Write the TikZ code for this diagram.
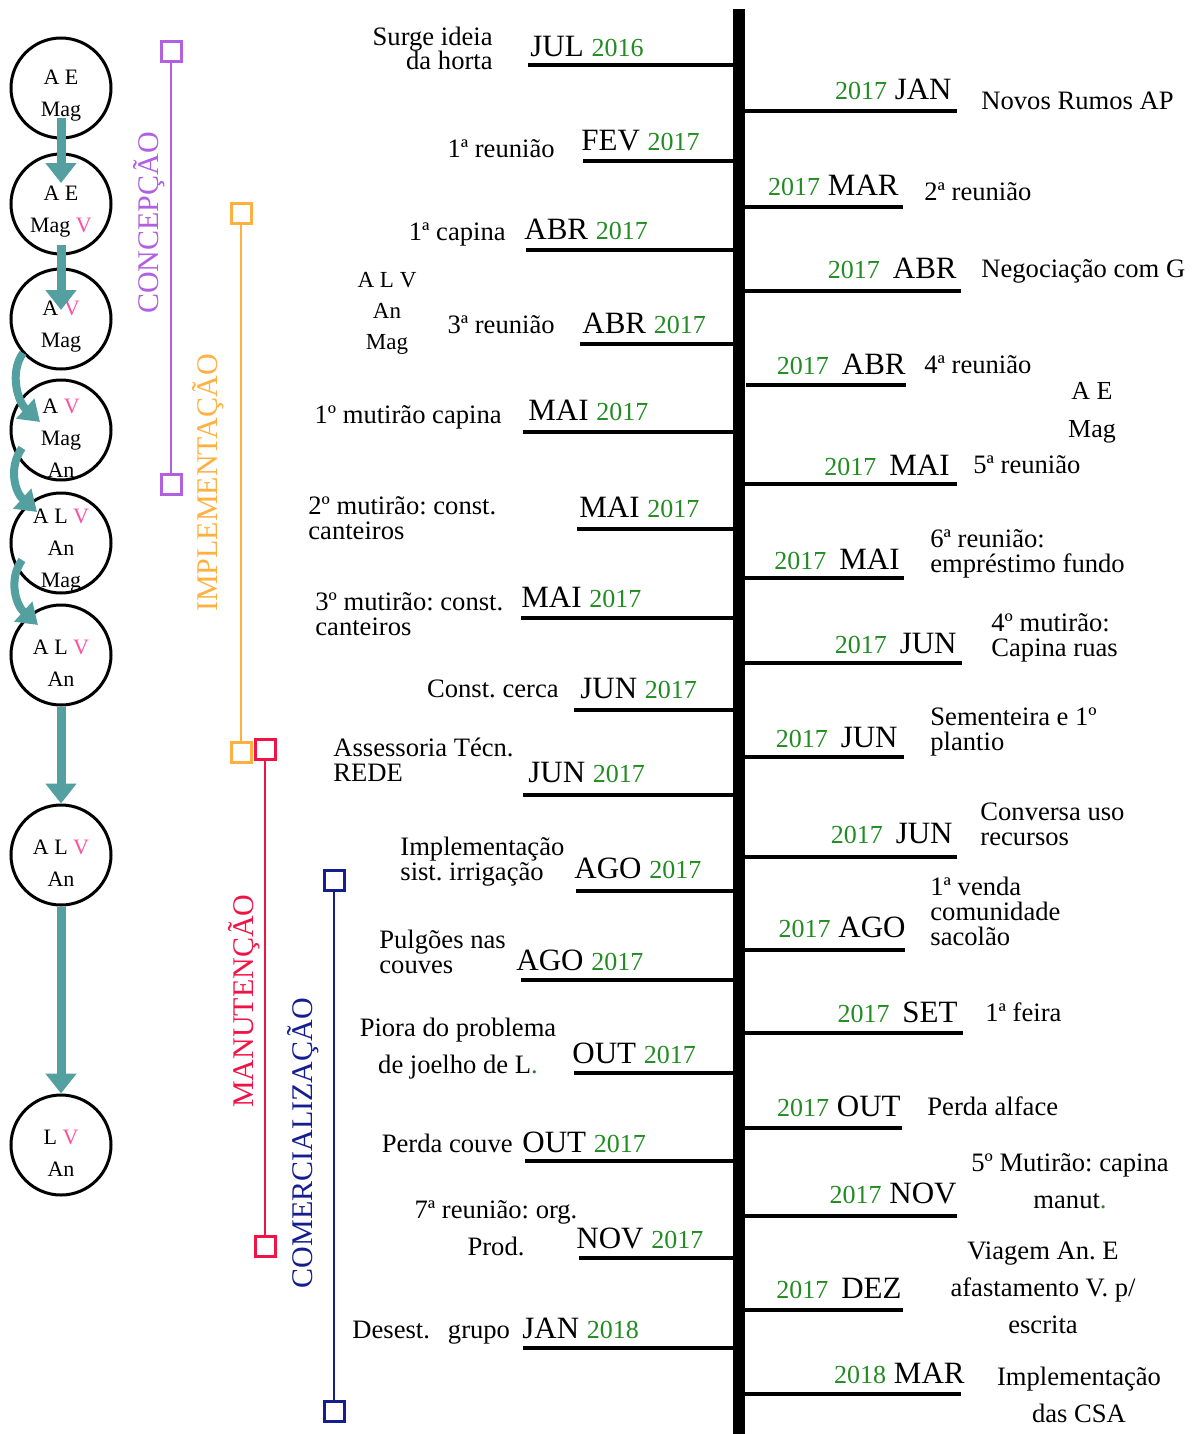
\documentclass[tikz,border=0pt]{standalone}
\usepackage{fontspec}
\setmainfont{Liberation Serif}
\usetikzlibrary{arrows.meta,calc}
\definecolor{tealflow}{RGB}{84,160,160}
\definecolor{yrgreen}{RGB}{34,139,34}
\definecolor{vpink}{RGB}{255,80,160}
\definecolor{conc}{RGB}{176,96,224}
\definecolor{impl}{RGB}{255,176,64}
\definecolor{manu}{RGB}{240,20,70}
\definecolor{come}{RGB}{20,30,140}
\newcommand{\yrs}[1]{{\fontsize{13}{14}\selectfont\color{yrgreen}#1}}
\newcommand{\pv}{{\color{vpink}V}}
\tikzset{
  circ/.style={draw,circle,line width=1.5pt,minimum size=50pt,inner sep=0pt},
  ctext/.style={align=center,inner sep=0pt,font=\fontsize{11}{16}\selectfont,yshift=-4pt},
  grp/.style={align=center,inner sep=0pt,anchor=base,font=\fontsize{11.5}{15.5}\selectfont},
  flow/.style={draw=tealflow,line width=4.5pt,-{Triangle[width=15pt,length=10pt]}},
  curl/.style={draw=tealflow,line width=4pt,-{Triangle[width=13pt,length=10pt]}},
  spine/.style={line width=6pt},
  stub/.style={line width=2pt},
  mon/.style={inner sep=0pt,font=\fontsize{15.5}{17}\selectfont},
  desc/.style={inner sep=0pt,align=left,font=\fontsize{13.3}{12.5}\selectfont},
  phase/.style={line width=1.3pt},
  endbox/.style={draw,line width=1.5pt,minimum size=10pt,inner sep=0pt,fill=white},
  phaselabel/.style={rotate=90,anchor=base,inner sep=0pt,font=\fontsize{15}{16}\selectfont}
}
\begin{document}
\frenchspacing
\begin{tikzpicture}[x=0.5pt,y=-0.5pt]
  \useasboundingbox (0,0) rectangle (1196,1434);

  % group composition
  \node[circ] (c1) at (61,88) {};
  \node[circ] (c2) at (61,204) {};
  \node[circ] (c3) at (61,319) {};
  \node[circ] (c4) at (61,430) {};
  \node[circ] (c5) at (61,543) {};
  \node[circ] (c6) at (61,655) {};
  \node[circ] (c7) at (61,855) {};
  \node[circ] (c8) at (61,1145) {};
  \node[ctext] (t1) at (c1) {A E\\Mag};
  \node[ctext] (t2) at (c2) {A E\\Mag \pv};
  \node[ctext] (t3) at (c3) {A \pv\\Mag};
  \node[ctext] (t4) at (c4) {A \pv\\Mag\\An};
  \node[ctext] (t5) at (c5) {A L \pv\\An\\Mag};
  \node[ctext] (t6) at (c6) {A L \pv\\An};
  \node[ctext] (t7) at (c7) {A L \pv\\An};
  \node[ctext] (t8) at (c8) {L \pv\\An};
  \draw[flow] ($(c1)+(0,30)$) -- ($(c2)+(0,-21)$);
  \draw[flow] ($(c2)+(0,41)$) -- ($(c3)+(0,-9)$);
  \draw[curl] ($(c3)+(-38,34)$) .. controls +(-14,20) and +(-22,-20) .. ($(c4)+(-21,-8)$);
  \draw[curl] ($(c4)+(-39,18)$) .. controls +(-14,20) and +(-22,-20) .. ($(c5)+(-24,-31)$);
  \draw[curl] ($(c5)+(-39,17)$) .. controls +(-14,20) and +(-22,-20) .. ($(c6)+(-23,-30)$);
  \draw[flow] (c6.south) -- (c7.north);
  \draw[flow] (c7.south) -- (c8.north);

  % phases
  \node[endbox,draw=conc] (pc1) at (171,52) {};
  \node[endbox,draw=conc] (pc2) at (171,484) {};
  \draw[phase,draw=conc] (pc1) -- (pc2);
  \node[phaselabel,text=conc] (lc) at (158,223) {CONCEPÇÃO};
  \node[endbox,draw=impl] (pi1) at (241,213) {};
  \node[endbox,draw=impl] (pi2) at (241,752) {};
  \draw[phase,draw=impl] (pi1) -- (pi2);
  \node[phaselabel,text=impl] (li) at (217,483) {IMPLEMENTAÇÃO};
  \node[endbox,draw=manu] (pm1) at (265,749) {};
  \node[endbox,draw=manu] (pm2) at (265,1246) {};
  \draw[phase,draw=manu] (pm1) -- (pm2);
  \node[phaselabel,text=manu] (lm) at (253,1001) {MANUTENÇÃO};
  \node[endbox,draw=come] (po1) at (334,880) {};
  \node[endbox,draw=come] (po2) at (334,1411) {};
  \draw[phase,draw=come] (po1) -- (po2);
  \node[phaselabel,text=come] (lo) at (312,1143) {COMERCIALIZAÇÃO};

  % timeline, left side
  \draw[spine] (739,9) -- (739,1434);
  \draw[stub] (528,65) -- (739,65);
  \node[mon,anchor=base west] (m1) at (530,57) {JUL \yrs{2016}};
  \node[desc,align=right,anchor=base east] (e1) at (493,70) {Surge ideia\\da horta};
  \draw[stub] (583,161) -- (739,161);
  \node[mon,anchor=base west] (m2) at (581,150) {FEV \yrs{2017}};
  \node[desc,anchor=base east] (e2) at (555,157) {1ª reunião};
  \draw[stub] (526,250) -- (739,250);
  \node[mon,anchor=base west] (m3) at (524,239) {ABR \yrs{2017}};
  \node[desc,anchor=base east] (e3) at (506,240) {1ª capina};
  \draw[stub] (580,344) -- (739,344);
  \node[mon,anchor=base west] (m4) at (582,333) {ABR \yrs{2017}};
  \node[desc,anchor=base east] (e4) at (555,333) {3ª reunião};
  \node[grp] (g4) at (387,349) {A L V\\An\\Mag};
  \draw[stub] (523,432) -- (739,432);
  \node[mon,anchor=base west] (m5) at (528,420) {MAI \yrs{2017}};
  \node[desc,anchor=base east] (e5) at (502,423) {1º mutirão capina};
  \draw[stub] (577,529) -- (739,529);
  \node[mon,anchor=base west] (m6) at (579,517) {MAI \yrs{2017}};
  \node[desc,anchor=base west] (e6) at (308,539) {2º mutirão: const.\\canteiros};
  \draw[stub] (521,618) -- (739,618);
  \node[mon,anchor=base west] (m7) at (521,607) {MAI \yrs{2017}};
  \node[desc,anchor=base west] (e7) at (315,635) {3º mutirão: const.\\canteiros};
  \draw[stub] (574,710) -- (739,710);
  \node[mon,anchor=base west] (m8) at (580,698) {JUN \yrs{2017}};
  \node[desc,anchor=base east] (e8) at (559,697) {Const. cerca};
  \draw[stub] (523,795) -- (739,795);
  \node[mon,anchor=base west] (m9) at (528,782) {JUN \yrs{2017}};
  \node[desc,anchor=base west] (e9) at (333,781) {Assessoria Técn.\\REDE};
  \draw[stub] (576,891) -- (739,891);
  \node[mon,anchor=base west] (m10) at (574,878) {AGO \yrs{2017}};
  \node[desc,anchor=base west] (e10) at (400,880) {Implementação\\sist. irrigação};
  \draw[stub] (521,980) -- (739,980);
  \node[mon,anchor=base west] (m11) at (516,970) {AGO \yrs{2017}};
  \node[desc,anchor=base west] (e11) at (379,973) {Pulgões nas\\couves};
  \draw[stub] (574,1073) -- (739,1073);
  \node[mon,anchor=base west] (m12) at (572,1063) {OUT \yrs{2017}};
  \node[desc,align=center,anchor=base] (e12) at (458,1073) {Piora do problema\\[6pt]de joelho de L{\color{yrgreen}.}};
  \draw[stub] (525,1161) -- (739,1161);
  \node[mon,anchor=base west] (m13) at (522,1152) {OUT \yrs{2017}};
  \node[desc,anchor=base east] (e13) at (513,1152) {Perda couve};
  \draw[stub] (579,1258) -- (739,1258);
  \node[mon,anchor=base west] (m14) at (576,1248) {NOV \yrs{2017}};
  \node[desc,align=center,anchor=base] (e14) at (496,1255) {7ª reunião: org.\\[6pt]Prod.};
  \draw[stub] (523,1348) -- (739,1348);
  \node[mon,anchor=base west] (m15) at (522,1338) {JAN \yrs{2018}};
  \node[desc,anchor=base west] (e15) at (352,1338) {Desest.\hspace{9pt}grupo};

  % timeline, right side
  \draw[stub] (739,111) -- (957,111);
  \node[mon,anchor=base east] (r1) at (952,100) {\yrs{2017} JAN};
  \node[desc,anchor=base west] (f1) at (981,110) {Novos Rumos AP};
  \draw[stub] (739,207) -- (903,207);
  \node[mon,anchor=base east] (r2) at (899,195) {\yrs{2017} MAR};
  \node[desc,anchor=base west] (f2) at (924,200) {2ª reunião};
  \draw[stub] (739,291) -- (961,291);
  \node[mon,anchor=base east] (r3) at (957,278) {\yrs{2017}\, ABR};
  \node[desc,anchor=base west] (f3) at (981,277) {Negociação com G};
  \draw[stub] (746,385) -- (906,385);
  \node[mon,anchor=base east] (r4) at (906,374) {\yrs{2017}\, ABR};
  \node[desc,anchor=base west] (f4) at (924,373) {4ª reunião};
  \node[grp,font=\fontsize{13}{19}\selectfont] (g5) at (1092,437) {A E\\Mag};
  \draw[stub] (739,484) -- (957,484);
  \node[mon,anchor=base east] (r5) at (950,475) {\yrs{2017}\, MAI};
  \node[desc,anchor=base west] (f5) at (973,473) {5ª reunião};
  \draw[stub] (739,578) -- (904,578);
  \node[mon,anchor=base east] (r6) at (900,569) {\yrs{2017}\, MAI};
  \node[desc,anchor=base west] (f6) at (930,572) {6ª reunião:\\empréstimo fundo};
  \draw[stub] (739,663) -- (962,663);
  \node[mon,anchor=base east] (r7) at (957,653) {\yrs{2017}\, JUN};
  \node[desc,anchor=base west] (f7) at (991,656) {4º mutirão:\\Capina ruas};
  \draw[stub] (739,757) -- (904,757);
  \node[mon,anchor=base east] (r8) at (898,747) {\yrs{2017}\, JUN};
  \node[desc,anchor=base west] (f8) at (930,750) {Sementeira e 1º\\plantio};
  \draw[stub] (739,857) -- (957,857);
  \node[mon,anchor=base east] (r9) at (953,843) {\yrs{2017}\, JUN};
  \node[desc,anchor=base west] (f9) at (980,845) {Conversa uso\\recursos};
  \draw[stub] (739,950) -- (905,950);
  \node[mon,anchor=base east] (r10) at (906,937) {\yrs{2017} AGO};
  \node[desc,anchor=base west] (f10) at (930,945) {1ª venda\\comunidade\\sacolão};
  \draw[stub] (739,1033) -- (963,1033);
  \node[mon,anchor=base east] (r11) at (958,1022) {\yrs{2017}\, SET};
  \node[desc,anchor=base west] (f11) at (985,1021) {1ª feira};
  \draw[stub] (739,1128) -- (902,1128);
  \node[mon,anchor=base east] (r12) at (901,1116) {\yrs{2017} OUT};
  \node[desc,anchor=base west] (f12) at (927,1115) {Perda alface};
  \draw[stub] (739,1216) -- (957,1216);
  \node[mon,anchor=base east] (r13) at (957,1203) {\yrs{2017} NOV};
  \node[desc,align=center,anchor=base] (f13) at (1070,1208) {5º Mutirão: capina\\[6pt]manut{\color{yrgreen}.}};
  \draw[stub] (739,1310) -- (903,1310);
  \node[mon,anchor=base east] (r14) at (902,1298) {\yrs{2017}\, DEZ};
  \node[desc,align=center,anchor=base] (f14) at (1043,1333) {Viagem An. E\\[6pt]afastamento V. p/\\[6pt]escrita};
  \draw[stub] (739,1394) -- (961,1394);
  \node[mon,anchor=base east] (r15) at (965,1383) {\yrs{2018} MAR};
  \node[desc,align=center,anchor=base] (f15) at (1079,1422) {Implementação\\[6pt]das CSA};
\end{tikzpicture}
\end{document}
